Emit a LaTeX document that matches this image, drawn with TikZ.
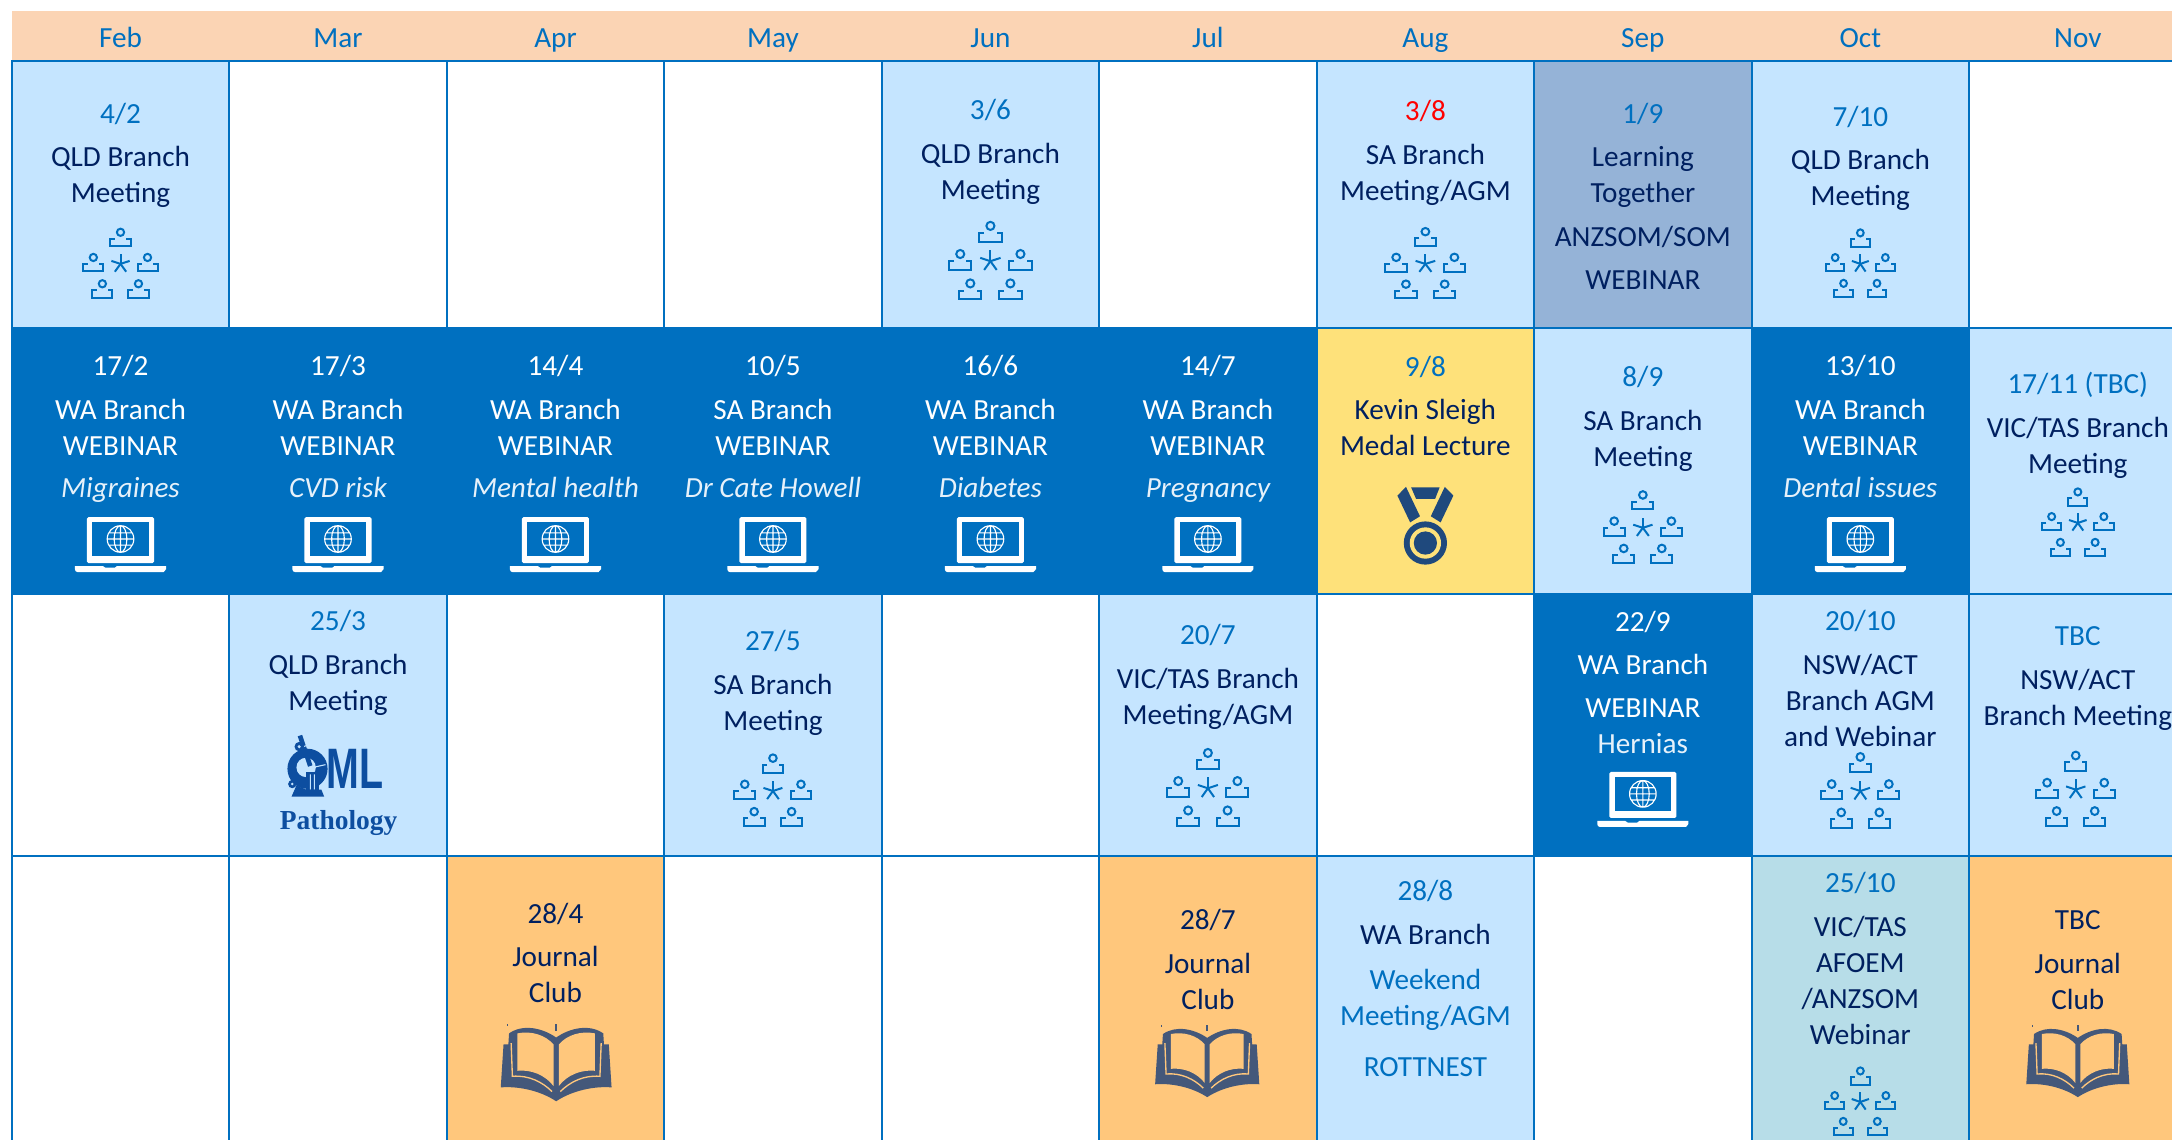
\documentclass[tikz,border=0pt]{standalone}
\usepackage{fontspec}
\setmainfont{Carlito}
\newfontfamily\logoserif{Liberation Serif}
\newfontfamily\logosans{Liberation Sans}
\definecolor{bl}{HTML}{0070C0}
\definecolor{dk}{HTML}{002060}
\definecolor{lt}{HTML}{C5E5FF}
\definecolor{hd}{HTML}{FBD4B4}
\definecolor{sepc}{HTML}{95B3D7}
\definecolor{orng}{HTML}{FFC77C}
\definecolor{yel}{HTML}{FEE17A}
\definecolor{tl}{HTML}{B7DDE8}
\definecolor{bookc}{HTML}{44587A}
\definecolor{medc}{HTML}{1F497D}
\definecolor{logoc}{HTML}{0D4EA0}
\definecolor{lite}{HTML}{E6F1FA}
\newcounter{tn}
\tikzset{
 lbl/.style={anchor=base,inner sep=0pt,font=\fontsize{21.9}{24}\selectfont},
 gridline/.style={draw=bl,line width=1.4pt},
 micon/.style={draw=bl,line width=1.5pt},
}
\newcommand\T[4]{\stepcounter{tn}\node[lbl,text=#1] (t\thetn) at (#2,#3) {#4};}
\newcommand\cellf[4]{\fill[#1] (#2,#3) rectangle (#2+157,#4);}
\newcommand\meet[4]{%
\begin{scope}[shift={(#1,#2)},xscale=#3/53.7,yscale=#4/50.5]
\foreach \px/\py in {0/-22.1,-19.5/-4.1,19.4/-4.1,-13/14.7,12.9/14.7}{
 \begin{scope}[shift={(\px,\py)}]
 \draw[micon] (0,0) circle[radius=2.6];
 \draw[micon] (-4,4.6) -- (-7.2,4.6) -- (-7.2,10) -- (7.2,10) -- (7.2,4.6) -- (4,4.6);
 \end{scope}}
\foreach \a in {270,342,54,126,198}{\draw[micon] (0,.5) -- ++(\a:6.9);}
\end{scope}}
\newcommand\laptop[3]{% cx cy scale
\begin{scope}[shift={(#1,#2)},scale=#3]
\fill[white,rounded corners=1.2] (-24.2,-19.7) rectangle (24.2,13.5);
\fill[bl] (-20.4,-16.4) rectangle (20.4,8.7);
\fill[white] (-32.9,15.6) -- (-12.8,15.6) -- (-11,16.8) -- (-4,16.8) -- (-2.5,15.6) -- (32.9,15.6) -- (32.9,18) to[out=90,in=0] (31,20) -- (-31,20) to[out=180,in=-90] (-32.9,18) -- cycle;
\begin{scope}[shift={(0,-3.9)}]
\draw[white,line width=.85pt] (0,0) circle[radius=9.6] (0,-9.6) -- (0,9.6) (-9.6,0) -- (9.6,0) (-8.4,-4.4) -- (8.4,-4.4) (-8.4,4.4) -- (8.4,4.4) (0,0) ellipse[x radius=4.6,y radius=9.6];
\end{scope}
\end{scope}}
\newcommand\book[5]{% cx cy xs ys bg
\begin{scope}[shift={(#1,#2)},xscale=#3,yscale=#4]
\fill[bookc] (0,28) .. controls (-12,20) and (-28,17) .. (-40,18) -- (-38,-13) -- (-34.5,-13) -- (-34,-21) .. controls (-24,-28) and (-10,-25) .. (0,-18) .. controls (10,-25) and (24,-28) .. (34,-21) -- (34.5,-13) -- (38,-13) -- (40,18) .. controls (28,17) and (12,20) .. cycle;
\fill[#5] (-1.9,-13) .. controls (-8,-20) and (-18,-23) .. (-28,-21) -- (-28,6) .. controls (-18,5) and (-8,9) .. (-1.9,17) -- cycle;
\fill[#5] (1.9,-13) .. controls (8,-20) and (18,-23) .. (28,-21) -- (28,6) .. controls (18,5) and (8,9) .. (1.9,17) -- cycle;
\draw[#5,line width=1pt] (-32.5,-14) -- (-31.6,10) .. controls (-20,9) and (-10,14) .. (-3,21);
\draw[#5,line width=1pt] (32.5,-14) -- (31.6,10) .. controls (20,9) and (10,14) .. (3,21);
\fill[bookc] (-.9,-28) rectangle (.9,-23);
\fill[bookc] (-35.5,-28) rectangle (-34.5,-26.5);
\end{scope}}
\newcommand\medal[2]{%
\begin{scope}[shift={(#1,#2)}]
\fill[medc] (-20.2,-34.2) -- (-14,-40.5) -- (-3.9,-19.3) -- (-11,-14.9) -- cycle;
\fill[medc] (20.2,-34.2) -- (14,-40.5) -- (3.9,-19.3) -- (11,-14.9) -- cycle;
\fill[medc] (-10.3,-40.2) -- (10.3,-40.2) -- (7,-31.8) -- (-6.7,-31.8) -- cycle;
\fill[medc] (0,0) circle[radius=15.6];
\fill[yel] (0,0) circle[radius=11.3];
\fill[medc] (0,0) circle[radius=8.4];
\end{scope}}
\begin{document}
\begin{tikzpicture}[x=1.0389pt,y=-1.0389pt]
\useasboundingbox (0,0) rectangle (1568,823);
\fill[hd] (9,8) rectangle (1568,44);
% coloured cells
\cellf{lt}{8.5}{44}{237}
\cellf{lt}{636.5}{44}{237}
\cellf{lt}{950.5}{44}{237}
\cellf{sepc}{1107.5}{44}{237}
\cellf{lt}{1264.5}{44}{237}
\cellf{yel}{950.5}{237}{429}
\cellf{lt}{1107.5}{237}{429}
\cellf{lt}{1421.5}{237}{429}
\cellf{lt}{165.5}{429}{618}
\cellf{lt}{479.5}{429}{618}
\cellf{lt}{793.5}{429}{618}
\cellf{lt}{1264.5}{429}{618}
\cellf{lt}{1421.5}{429}{618}
\cellf{orng}{322.5}{618}{823}
\cellf{orng}{793.5}{618}{823}
\cellf{lt}{950.5}{618}{823}
\cellf{tl}{1264.5}{618}{823}
\cellf{orng}{1421.5}{618}{823}
% grid
\foreach \i in {0,...,9}{\draw[gridline] (8.5+157*\i,44) -- (8.5+157*\i,823);}
\foreach \yy in {44,237,429,618}{\draw[gridline] (8,\yy) -- (1568,\yy);}
% dark cells
\fill[bl] (7.7,237) rectangle (950.5,429.5);
\fill[bl] (1264.5,237) rectangle (1421.5,429.5);
\fill[bl] (1107.5,429) rectangle (1264.5,618.5);
% headers
\T{bl}{87}{34.5}{Feb}\T{bl}{244}{34.5}{Mar}\T{bl}{401}{34.5}{Apr}\T{bl}{558}{34.5}{May}\T{bl}{715}{34.5}{Jun}
\T{bl}{872}{34.5}{Jul}\T{bl}{1029}{34.5}{Aug}\T{bl}{1186}{34.5}{Sep}\T{bl}{1343}{34.5}{Oct}\T{bl}{1500}{34.5}{Nov}
% row 1
\T{bl}{87}{89}{4/2}\T{dk}{87}{120.5}{QLD Branch}\T{dk}{87}{146.5}{Meeting}\meet{87}{190}{54}{51}
\T{bl}{715}{86.5}{3/6}\T{dk}{715}{118}{QLD Branch}\T{dk}{715}{144}{Meeting}\meet{715}{188}{60}{57}
\T{red}{1029}{87}{3/8}\T{dk}{1029}{119}{SA Branch}\T{dk}{1029}{145}{Meeting/AGM}\meet{1029}{190}{58}{52}
\T{bl}{1186}{89}{1/9}\T{dk}{1186}{120.5}{Learning}\T{dk}{1186}{146.5}{Together}\T{dk}{1186}{178}{ANZSOM/SOM}\T{dk}{1186}{209}{WEBINAR}
\T{bl}{1343}{91}{7/10}\T{dk}{1343}{122}{QLD Branch}\T{dk}{1343}{148}{Meeting}\meet{1343}{190}{50}{50}
% row 2
\foreach \cx/\dt/\br/\tp in {87/17\slash 2/WA/Migraines,244/17\slash 3/WA/CVD risk,401/14\slash 4/WA/Mental health,558/10\slash 5/SA/Dr Cate Howell,715/16\slash 6/WA/Diabetes,872/14\slash 7/WA/Pregnancy,1343/13\slash 10/WA/Dental issues}{
 \node[lbl,text=white] (d\cx) at (\cx,271) {\dt};
 \node[lbl,text=white] (b\cx) at (\cx,302.5) {\br{} Branch};
 \node[lbl,text=white] (w\cx) at (\cx,328.5) {WEBINAR};
 \node[lbl,text=lite,font=\fontsize{21.9}{24}\selectfont\itshape] (i\cx) at (\cx,359.5) {\tp};
 \laptop{\cx}{393}{1}
}
\T{bl}{1029}{272}{9/8}\T{dk}{1029}{303}{Kevin Sleigh}\T{dk}{1029}{329}{Medal Lecture}\medal{1029}{392}
\T{bl}{1186}{279}{8/9}\T{dk}{1186}{311}{SA Branch}\T{dk}{1186}{337}{Meeting}\meet{1186}{380.5}{57}{53}
\T{bl}{1500}{284}{17/11 (TBC)}\T{dk}{1500}{316}{VIC/TAS Branch}\T{dk}{1500}{342}{Meeting}\meet{1500}{377}{52}{50}
% row 3
\T{bl}{244}{455.5}{25/3}\T{dk}{244}{487}{QLD Branch}\T{dk}{244}{513}{Meeting}
\begin{scope}
\fill[logoc] (222,555) circle[radius=14.5];
\fill[lt] (221,554) circle[radius=7];
\draw[logoc,line width=3.5pt] (216.5,531) -- (224,553);
\draw[lt,line width=.8pt] (219,539) -- (225,537);
\fill[logoc] (216,539) circle[radius=3.4];
\fill[lt] (216,539) circle[radius=1.2];
\fill[logoc] (221,557) rectangle (230,570);
\draw[lt,line width=.8pt] (224,559) -- (224,570) (227,559) -- (227,570) (217,556) -- (235,552);
\fill[logoc] (210.5,575) -- (214,567) -- (221,570) -- (232,570) -- (234,575) -- cycle;
\fill[logoc] (211,566) circle[radius=3];
\fill[lt] (211,566) circle[radius=1];
\node[inner sep=0pt,anchor=base,text=logoc] (oml) at (256.5,569.5) {\scalebox{1}[1.45]{\fontsize{29.5}{29.5}\logosans\bfseries ML}};
\node[inner sep=0pt,anchor=base,text=logoc] (path) at (244.5,599) {\fontsize{20.6}{20.6}\logoserif\bfseries Pathology};
\end{scope}
\T{bl}{558}{469.5}{27/5}\T{dk}{558}{501}{SA Branch}\T{dk}{558}{527}{Meeting}\meet{558}{570.5}{56}{53}
\T{bl}{872}{465}{20/7}\T{dk}{872}{497}{VIC/TAS Branch}\T{dk}{872}{523}{Meeting/AGM}\meet{872}{568.5}{59}{57}
\T{white}{1186}{456}{22/9}\T{white}{1186}{487}{WA Branch}\T{white}{1186}{518}{WEBINAR}\T{lite}{1186}{544}{Hernias}\laptop{1186}{577}{1}
\T{bl}{1343}{455}{20/10}\T{dk}{1343}{487}{NSW/ACT}\T{dk}{1343}{513}{Branch AGM}\T{dk}{1343}{539}{and Webinar}\meet{1343}{570.5}{57}{55}
\T{bl}{1500}{466}{TBC}\T{dk}{1500}{498}{NSW/ACT}\T{dk}{1500}{524}{Branch Meeting}\meet{1498.5}{569.5}{57}{55}
% row 4
\T{dk}{401}{666.5}{28/4}\T{dk}{401}{698}{Journal}\T{dk}{401}{724}{Club}\book{401.5}{767}{1}{1}{orng}
\T{dk}{872}{671}{28/7}\T{dk}{872}{703}{Journal}\T{dk}{872}{729}{Club}\book{871.5}{766}{.94}{.93}{orng}
\T{bl}{1029}{650}{28/8}\T{dk}{1029}{682}{WA Branch}\T{bl}{1029}{714}{Weekend}\T{bl}{1029}{740}{Meeting/AGM}\T{bl}{1029}{777}{ROTTNEST}
\T{bl}{1343}{644}{25/10}\T{dk}{1343}{676}{VIC/TAS}\T{dk}{1343}{702}{AFOEM}\T{dk}{1343}{728}{/ANZSOM}\T{dk}{1343}{754}{Webinar}\meet{1343}{795}{51}{50}
\T{dk}{1500}{671}{TBC}\T{dk}{1500}{703}{Journal}\T{dk}{1500}{729}{Club}\book{1500}{766}{.93}{.93}{orng}
\end{tikzpicture}
\end{document}
